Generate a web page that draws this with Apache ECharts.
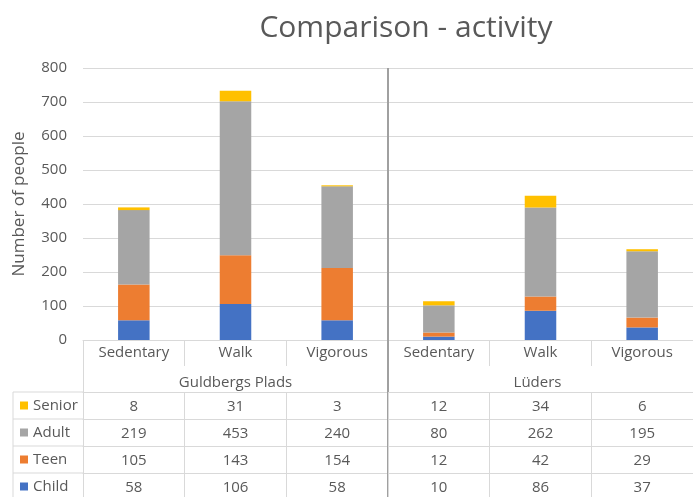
<!DOCTYPE html>
<html>
<head>
<meta charset="utf-8">
<script src="https://cdn.jsdelivr.net/npm/echarts@6/dist/echarts.min.js"></script>
<style>
  html, body { margin: 0; padding: 0; background: #fff; }
  #chart { width: 693px; height: 497px; }
</style>
</head>
<body>
<div id="chart"></div>
<script>
const categories = ['Sedentary', 'Walk', 'Vigorous', 'Sedentary', 'Walk', 'Vigorous']
const groups = ['Guldbergs Plads', 'Lüders']
const child = [58, 106, 58, 10, 86, 37]
const teen = [105, 143, 154, 12, 42, 29]
const adult = [219, 453, 240, 80, 262, 195]
const senior = [8, 31, 3, 12, 34, 6]
const yTicks = { min: 0, max: 800, interval: 100 }

const colors = { Child: '#4472c4', Teen: '#ed7d31', Adult: '#a5a5a5', Senior: '#ffc000' }
const font = 'Open Sans'
const textColor = '#595959'
const lineColor = '#d9d9d9'
const fs = 15

// table rows, top to bottom
const rows = [
  { name: 'Senior', values: senior },
  { name: 'Adult', values: adult },
  { name: 'Teen', values: teen },
  { name: 'Child', values: child }
]

const gridLeft = 83
const gridTop = 68
const gridHeight = 272
const rowTop = 52   // first table row line below the axis
const rowH = 27
const tableTop = gridTop + gridHeight + rowTop

function rowAxis(row, i) {
  return {
    type: 'category',
    gridIndex: 0,
    position: 'bottom',
    offset: rowTop + i * rowH,
    data: categories,
    axisLine: { show: true, lineStyle: { color: lineColor } },
    axisTick: { show: true, length: rowH, lineStyle: { color: lineColor } },
    axisLabel: {
      interval: 0,
      margin: 7,
      color: textColor,
      fontFamily: font,
      fontSize: fs,
      formatter: (v, idx) => String(row.values[idx])
    },
    splitLine: { show: false }
  }
}

function barSeries(name, data) {
  return {
    name,
    type: 'bar',
    stack: 'total',
    barWidth: '31%',
    data,
    itemStyle: { color: colors[name] }
  }
}

const chart = echarts.init(document.getElementById('chart'))

// frame of the legend column of the table
const legendLines = []
for (let i = 0; i < rows.length; i++) {
  legendLines.push({
    type: 'line',
    shape: { x1: 13, y1: tableTop + i * rowH, x2: gridLeft, y2: tableTop + i * rowH },
    style: { stroke: lineColor, lineWidth: 1 }
  })
}
legendLines.push({
  type: 'line',
  shape: { x1: 13, y1: tableTop, x2: 13, y2: 497 },
  style: { stroke: lineColor, lineWidth: 1 }
})

chart.setOption({
  animation: false,
  textStyle: { fontFamily: font },
  title: {
    text: 'Comparison - activity',
    left: 401,
    top: 8,
    textAlign: 'center',
    textStyle: { color: textColor, fontSize: 30, fontWeight: 'normal', fontFamily: font }
  },
  legend: rows.map((r, i) => ({
    left: 20,
    top: tableTop + i * rowH + 5,
    padding: 0,
    itemWidth: 8,
    itemHeight: 8,
    icon: 'rect',
    data: [r.name],
    textStyle: { color: textColor, fontSize: fs, lineHeight: 17, fontFamily: font }
  })),
  grid: { left: gridLeft, top: gridTop, width: 618, height: gridHeight },
  xAxis: [
    {
      type: 'category',
      data: categories,
      axisLine: { show: true, lineStyle: { color: lineColor } },
      axisTick: { show: true, length: 26, lineStyle: { color: lineColor } },
      axisLabel: { interval: 0, margin: 5, color: textColor, fontSize: fs, fontFamily: font }
    },
    {
      type: 'category',
      position: 'bottom',
      data: [
        { value: groups[0] },
        { value: groups[1], textStyle: { padding: [0, 6, 0, 0] } }
      ],
      axisLine: { show: false },
      axisTick: { show: true, length: rowTop, lineStyle: { color: lineColor } },
      axisLabel: { interval: 0, margin: 35, color: textColor, fontSize: fs, fontFamily: font },
      splitLine: { show: false }
    },
    // thick separator between the two locations
    {
      type: 'value',
      position: 'bottom',
      min: 0,
      max: categories.length,
      axisLine: { show: false },
      axisLabel: { show: false },
      axisTick: { show: true, length: 160, customValues: [categories.length / 2], lineStyle: { color: '#a0a0a0', width: 2 } },
      splitLine: { show: true, lineStyle: { color: '#a0a0a0', width: 2 } }
    },
    ...rows.map(rowAxis)
  ],
  yAxis: {
    type: 'value',
    min: yTicks.min,
    max: yTicks.max,
    interval: yTicks.interval,
    name: 'Number of people',
    nameLocation: 'middle',
    nameGap: 55,
    nameTextStyle: { color: textColor, fontSize: 17, fontFamily: font },
    axisLine: { show: false },
    axisTick: { show: false },
    axisLabel: { margin: 16, color: textColor, fontSize: fs, fontFamily: font },
    splitLine: { lineStyle: { color: lineColor } }
  },
  series: [
    barSeries('Child', child),
    barSeries('Teen', teen),
    barSeries('Adult', adult),
    barSeries('Senior', senior)
  ],
  graphic: legendLines
})
</script>
</body>
</html>
